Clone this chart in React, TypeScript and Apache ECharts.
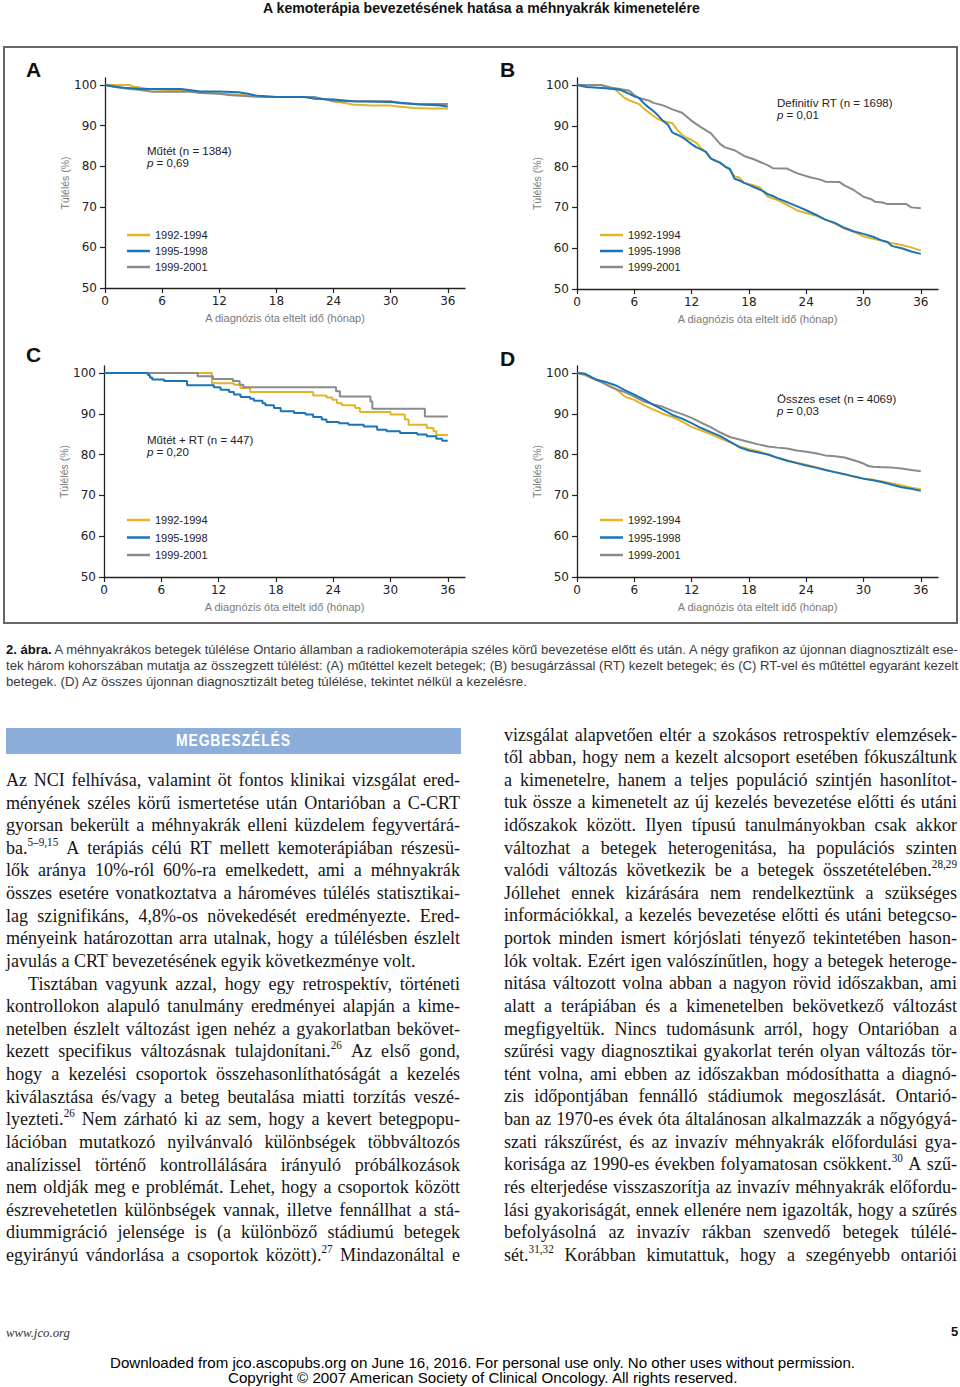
import React, { useEffect, useLayoutEffect, useRef, useState } from "react";
import * as echarts from "echarts";

type P = [number, number][];

// ---------- DATA ----------
const cohortNames = ["1992-1994", "1995-1998", "1999-2001"];
const xTickValues = [0, 6, 12, 18, 24, 30, 36];
const yTickValues = [50, 60, 70, 80, 90, 100];
const panelLetters = ["A", "B", "C", "D"];
const panelTitles = ["Műtét (n = 1384)", "Definitív RT (n = 1698)", "Műtét + RT (n = 447)", "Összes eset (n = 4069)"];
const panelP = ["0,69", "0,01", "0,20", "0,03"];
const xAxisName = "A diagnózis óta eltelt idő (hónap)";
const yAxisName = "Túlélés (%)";

// Panel A – Műtét
const aYellow: P = [[0,100],[2.5,100],[3,99.6],[4.5,99],[6,98.8],[8,98.6],[10,98.2],[12,97.9],[14,97.6],[16,97.2],[18,97],[20,97],[22,96.9],[23,96.5],[24,96],[25,95.6],[26,95.2],[28,94.9],[30,94.9],[31,94.6],[32.5,94.3],[34,94.2],[36,94.2]];
const aBlue: P = [[0,100],[1,99.6],[2,99.3],[4,99],[8,99],[9,98.7],[10,98.4],[12,98.4],[14,98.2],[15,97.8],[16,97.3],[18,97],[21,97],[22,96.6],[24,96.4],[26,96],[30,95.8],[31,95.6],[33,95.2],[35,95],[36,94.7]];
const aGray: P = [[0,100],[1,99.5],[2,99.2],[3.5,98.8],[4.5,98.5],[5,98.3],[9,98.3],[10,98],[12,97.8],[13,97.5],[15,97.2],[17,97],[22,97],[23,96.5],[24,96],[30,96],[31,95.5],[33,95.3],[36,95.3]];

// Panel B – Definitív RT
const bYellow: P = [[0,100],[2.5,100],[3,99.6],[4,99],[4.5,97.8],[5,96.8],[5.5,96.2],[6.5,95.3],[7,94.2],[7.5,93.3],[8,92.4],[8.5,91.6],[9,91.2],[10,90.6],[10.5,89],[11,87.8],[11.5,87],[12,86.5],[12.5,85.8],[13,84.5],[13.5,83.5],[14,82],[15,81],[15.5,80],[16,79.3],[16.5,77.6],[17,77.3],[17.5,76],[18.5,75.4],[19.2,74.8],[19.5,73.8],[20,72.6],[21,71.8],[22,70.6],[23,69.3],[24,68.6],[25,68],[26,67],[27,66],[28,64.8],[29,64],[30,62.9],[31,62.3],[32,61.8],[33,61.2],[34,60.8],[35,60.2],[36,59.4]];
const bBlue: P = [[0,100],[1,99.5],[3,99.2],[4.5,98.8],[5,98.3],[5.5,97.8],[6,97.2],[6.5,96.8],[7,95.5],[7.5,94.5],[8,93.6],[8.5,92.5],[9,91.2],[9.5,90.3],[10,88.3],[10.5,87.8],[11,87.2],[11.5,86.4],[12,85.5],[12.5,84.7],[13,84.2],[13.5,83.6],[14,82],[14.5,81.4],[15,80.9],[15.5,80],[16,79.4],[16.5,77],[17,76.6],[17.5,76],[18,75.5],[18.5,75],[19,74.5],[19.5,74],[20,73.2],[20.5,72.8],[21,72.2],[22,71.3],[23,70.3],[24,69.3],[25,68.2],[26,67],[27,66.2],[28,65],[29,64.1],[30,63.5],[31,62.8],[32,61.8],[32.5,61.5],[33,60.5],[34,60],[35,59.2],[36,58.6]];
const bGray: P = [[0,100],[2.5,100],[3.5,99.4],[4.5,99],[5.5,98.6],[6,97.5],[6.5,96.8],[7.5,96.2],[8,95.6],[9,95],[10,94],[11,93.2],[12,91.2],[13,89.6],[14,88.2],[15,85.5],[15.5,84.7],[16.5,84],[17.5,82.6],[18.5,81.8],[20,80.3],[20.5,79.6],[22,79.5],[23,78.4],[24.4,77.4],[25.5,76.8],[26,76.3],[27.5,76.2],[28,75.4],[29,74.2],[29.5,73.4],[30,72.6],[30.8,72],[31.2,71.4],[32,71.2],[32.5,70.8],[34.5,70.8],[35,70],[36,69.8]];

// Panel C – Műtét + RT (step curves)
const cYellow: P = [[0,100],[11.3,97.5],[13.6,97.1],[14.3,96.3],[15.3,95.3],[21.9,94.5],[23.3,94],[23.9,93.4],[24.4,92.6],[24.9,92.1],[26.3,91.4],[26.8,90.4],[30,89.8],[31.5,88.6],[31.9,87.3],[33.8,86.5],[34.5,85.7],[34.8,84.8],[36,84.8]];
const cBlue: P = [[0,100],[4.6,99.5],[4.8,98.9],[5.05,98.4],[6.3,98],[8.7,97],[11.5,96.5],[12.2,95.9],[13.1,95.3],[13.6,94.7],[14.3,94.1],[15.3,93.7],[15.7,93.2],[16.6,92.6],[16.9,92.1],[17.8,91.4],[18.5,90.6],[19.9,90.2],[21.1,89.8],[21.9,89.2],[22.8,88.6],[23.3,88],[24.6,87.7],[25.6,87.3],[27.2,86.9],[28.6,86.1],[29.6,85.7],[31,85.3],[32.8,84.9],[33.8,84.5],[34.8,83.9],[35.4,83.4],[36,83.4]];
const cGray: P = [[0,100],[9.8,99.2],[11.4,98.5],[13.5,98],[14.2,97.1],[14.6,96.5],[24.3,95.5],[24.7,94.2],[27.9,93],[28.1,91.2],[33.6,89.3],[36,89.3]];

// Panel D – Összes eset
const dYellow: P = [[0,100],[1,99.3],[2,98.3],[3,97.3],[4,96.2],[5,94.2],[6,93.4],[7,92.1],[8,91],[9,90],[10,89.2],[11,88.1],[12,86.8],[13,85.9],[14,85],[15,84],[16,83],[17,82],[18,81.3],[19,80.8],[20,80],[21,79.2],[22,78.6],[23,78],[24,77.5],[25,76.9],[26,76.3],[27,75.7],[28,75.2],[29,74.6],[30,74.1],[31,73.8],[32,73.4],[33,72.9],[34,72.4],[35,71.9],[36,71.5]];
const dBlue: P = [[0,100],[0.8,99.8],[1.5,99],[2,98.4],[3,97.8],[4,97],[5,95.8],[6,94.7],[7,93.5],[8,92.2],[9,91],[10,89.7],[11,88.8],[12,87.7],[13,86.5],[14,85.5],[15,84.5],[16,83.2],[17,81.8],[18,81],[19,80.5],[20,80],[21,79.2],[22,78.5],[23,77.9],[24,77.3],[25,76.8],[26,76.2],[27,75.7],[28,75.2],[29,74.6],[30,74.1],[31,73.7],[32,73.2],[33,72.6],[34,72],[35,71.6],[36,71.1]];
const dGray: P = [[0,100],[0.8,99.8],[1.5,98.8],[2.5,97.8],[3.5,96.6],[4.2,95.9],[5,95.3],[6,94.2],[7,93],[8,92.3],[9,91.7],[10,90.7],[11,89.9],[12,89],[13,87.8],[14,86.7],[15,85.4],[16,84.3],[17,83.7],[18,83.1],[19,82.5],[20,82],[21,81.7],[22,81.5],[23,81],[24,80.7],[25,80.3],[26,79.8],[27,79.6],[28,79.3],[29,78.6],[30,77.8],[30.5,77.2],[31,77],[32,76.9],[33,76.8],[34,76.6],[35,76.2],[36,75.9]];

const panelData: P[][] = [
  [aYellow, aBlue, aGray],
  [bYellow, bBlue, bGray],
  [cYellow, cBlue, cGray],
  [dYellow, dBlue, dGray],
];
const panelStep = [false, false, true, false];

// ---------- PAGE TEXT ----------
const pageTitle = "A kemoterápia bevezetésének hatása a méhnyakrák kimenetelére";
const captionLines = [
  "**2. ábra.** A méhnyakrákos betegek túlélése Ontario államban a radiokemoterápia széles körű bevezetése előtt és után. A négy grafikon az újonnan diagnosztizált ese-",
  "tek három kohorszában mutatja az összegzett túlélést: (A) műtéttel kezelt betegek; (B) besugárzással (RT) kezelt betegek; és (C) RT-vel és műtéttel egyaránt kezelt",
  "betegek. (D) Az összes újonnan diagnosztizált beteg túlélése, tekintet nélkül a kezelésre.",
];
const sectionHeading = "MEGBESZÉLÉS";
const leftColumn = [
  "Az NCI felhívása, valamint öt fontos klinikai vizsgálat ered-",
  "ményének széles körű ismertetése után Ontarióban a C-CRT",
  "gyorsan bekerült a méhnyakrák elleni küzdelem fegyvertárá-",
  "ba.^{5–9,15} A terápiás célú RT mellett kemoterápiában részesü-",
  "lők aránya 10%-ról 60%-ra emelkedett, ami a méhnyakrák",
  "összes esetére vonatkoztatva a hároméves túlélés statisztikai-",
  "lag szignifikáns, 4,8%-os növekedését eredményezte. Ered-",
  "ményeink határozottan arra utalnak, hogy a túlélésben észlelt",
  "~javulás a CRT bevezetésének egyik következménye volt.",
  ">Tisztában vagyunk azzal, hogy egy retrospektív, történeti",
  "kontrollokon alapuló tanulmány eredményei alapján a kime-",
  "netelben észlelt változást igen nehéz a gyakorlatban bekövet-",
  "kezett specifikus változásnak tulajdonítani.^{26} Az első gond,",
  "hogy a kezelési csoportok összehasonlíthatóságát a kezelés",
  "kiválasztása és/vagy a beteg beutalása miatti torzítás veszé-",
  "lyezteti.^{26} Nem zárható ki az sem, hogy a kevert betegpopu-",
  "lációban mutatkozó nyilvánvaló különbségek többváltozós",
  "analízissel történő kontrollálására irányuló próbálkozások",
  "nem oldják meg e problémát. Lehet, hogy a csoportok között",
  "észrevehetetlen különbségek vannak, illetve fennállhat a stá-",
  "diummigráció jelensége is (a különböző stádiumú betegek",
  "egyirányú vándorlása a csoportok között).^{27} Mindazonáltal e",
];
const rightColumn = [
  "vizsgálat alapvetően eltér a szokásos retrospektív elemzések-",
  "től abban, hogy nem a kezelt alcsoport esetében fókuszáltunk",
  "a kimenetelre, hanem a teljes populáció szintjén hasonlítot-",
  "tuk össze a kimenetelt az új kezelés bevezetése előtti és utáni",
  "időszakok között. Ilyen típusú tanulmányokban csak akkor",
  "változhat a betegek heterogenitása, ha populációs szinten",
  "valódi változás következik be a betegek összetételében.^{28,29}",
  "Jóllehet ennek kizárására nem rendelkeztünk a szükséges",
  "információkkal, a kezelés bevezetése előtti és utáni betegcso-",
  "portok minden ismert kórjóslati tényező tekintetében hason-",
  "lók voltak. Ezért igen valószínűtlen, hogy a betegek heteroge-",
  "nitása változott volna abban a nagyon rövid időszakban, ami",
  "alatt a terápiában és a kimenetelben bekövetkező változást",
  "megfigyeltük. Nincs tudomásunk arról, hogy Ontarióban a",
  "szűrési vagy diagnosztikai gyakorlat terén olyan változás tör-",
  "tént volna, ami ebben az időszakban módosíthatta a diagnó-",
  "zis időpontjában fennálló stádiumok megoszlását. Ontarió-",
  "ban az 1970-es évek óta általánosan alkalmazzák a nőgyógyá-",
  "szati rákszűrést, és az invazív méhnyakrák előfordulási gya-",
  "korisága az 1990-es években folyamatosan csökkent.^{30} A szű-",
  "rés elterjedése visszaszorítja az invazív méhnyakrák előfordu-",
  "lási gyakoriságát, ennek ellenére nem igazolták, hogy a szűrés",
  "befolyásolná az invazív rákban szenvedő betegek túlélé-",
  "sét.^{31,32} Korábban kimutattuk, hogy a szegényebb ontariói",
];
const footerSite = "www.jco.org";
const footerPage = "5";
const downloadLines = [
  "Downloaded from jco.ascopubs.org on June 16, 2016. For personal use only. No other uses without permission.",
  "Copyright © 2007 American Society of Clinical Oncology. All rights reserved.",
];

// ---------- STYLE ----------
const SANS = "'Liberation Sans', Arial, Helvetica, sans-serif";
const TICKFONT = "'DejaVu Sans', 'Liberation Sans', sans-serif";
const SERIF = "'Liberation Serif', 'Times New Roman', serif";
const COLORS = ["#E2B426", "#1B74B8", "#8A8A8A"];

const grids = [
  { left: 105, top: 78, width: 360, height: 210 },
  { left: 577, top: 78, width: 361, height: 211 },
  { left: 104, top: 366, width: 361, height: 211 },
  { left: 577, top: 366, width: 361, height: 211 },
];
const legendPos = [
  { left: 127, top: 229, gap: 4 },
  { left: 600, top: 229, gap: 4 },
  { left: 127, top: 514, gap: 5.5 },
  { left: 600, top: 514, gap: 5.5 },
];
const letterPos = [
  { x: 26, y: 69 },
  { x: 500, y: 69 },
  { x: 26, y: 354 },
  { x: 500, y: 358 },
];
const notePos = [
  { x: 147, y: 151 },
  { x: 777, y: 103 },
  { x: 147, y: 439.5 },
  { x: 777, y: 398.5 },
];

function buildOption() {
  const series: any[] = [];
  panelData.forEach((cohorts, gi) => {
    [0, 2, 1].forEach((ci) => {
      series.push({
        type: "line",
        name: cohortNames[ci],
        xAxisIndex: gi,
        yAxisIndex: gi,
        data: cohorts[ci],
        step: panelStep[gi] ? "end" : false,
        symbol: "none",
        showSymbol: false,
        silent: true,
        lineStyle: { width: 2, color: COLORS[ci] },
        itemStyle: { color: COLORS[ci] },
      });
    });
  });

  const xAxis = grids.map((_, i) => ({
    gridIndex: i,
    type: "value",
    min: 0,
    max: 37.8,
    name: xAxisName,
    nameLocation: "middle",
    nameGap: 24,
    nameTextStyle: { color: "#7a7a7a", fontSize: 11, fontFamily: SANS },
    axisLine: { show: true, onZero: false, lineStyle: { color: "#222", width: 1.3 } },
    axisTick: { show: true, length: 5, customValues: xTickValues, lineStyle: { color: "#222", width: 1.2 } },
    axisLabel: { customValues: xTickValues, margin: 7, fontSize: 12, color: "#222", fontFamily: TICKFONT },
    splitLine: { show: false },
  }));
  const yAxis = grids.map((_, i) => ({
    gridIndex: i,
    type: "value",
    min: 50,
    max: 101.7,
    name: yAxisName,
    nameLocation: "middle",
    nameRotate: 90,
    nameGap: 32,
    nameTextStyle: { color: "#7a7a7a", fontSize: 10.5, fontFamily: SANS },
    axisLine: { show: true, onZero: false, lineStyle: { color: "#222", width: 1.3 } },
    axisTick: { show: true, length: 5, customValues: yTickValues, lineStyle: { color: "#222", width: 1.2 } },
    axisLabel: { customValues: yTickValues, margin: 8, fontSize: 12, color: "#222", fontFamily: TICKFONT },
    splitLine: { show: false },
  }));

  const legend = legendPos.map((p) => ({
    orient: "vertical",
    left: p.left,
    top: p.top,
    padding: 0,
    itemGap: p.gap,
    itemWidth: 23,
    itemHeight: 2.5,
    icon: "rect",
    selectedMode: false,
    textStyle: { fontSize: 11, color: "#222", fontFamily: SANS, lineHeight: 12 },
    data: cohortNames,
  }));

  const graphic: any[] = [
    {
      type: "rect",
      silent: true,
      shape: { x: 4, y: 47, width: 953, height: 576 },
      style: { fill: "none", stroke: "#666", lineWidth: 2 },
    },
  ];
  panelLetters.forEach((l, i) => {
    graphic.push({
      type: "text",
      x: letterPos[i].x,
      y: letterPos[i].y,
      silent: true,
      style: { text: l, fontSize: 21, fontWeight: "bold", fontFamily: SANS, fill: "#111", verticalAlign: "middle" },
    });
    graphic.push({
      type: "text",
      x: notePos[i].x,
      y: notePos[i].y,
      silent: true,
      style: { text: panelTitles[i], fontSize: 11.5, fontFamily: SANS, fill: "#222", verticalAlign: "middle" },
    });
    graphic.push({
      type: "text",
      x: notePos[i].x,
      y: notePos[i].y + 12.3,
      silent: true,
      style: {
        text: "{i|p} = " + panelP[i],
        fontSize: 11.5,
        fontFamily: SANS,
        fill: "#222",
        verticalAlign: "middle",
        rich: { i: { fontStyle: "italic", fontSize: 11.5, fontFamily: SANS, fill: "#222" } },
      },
    });
  });

  return {
    animation: false,
    textStyle: { fontFamily: SANS },
    grid: grids.map((g) => ({ ...g, containLabel: false })),
    xAxis,
    yAxis,
    legend,
    series,
    graphic,
  };
}

// ---------- TEXT HELPERS ----------
function renderWord(w: string, key: number) {
  const parts = w.split(/\^\{([^}]*)\}/);
  return (
    <span key={key}>
      {parts.map((p, i) =>
        i % 2 === 1 ? (
          <span key={i} style={{ fontSize: "0.62em", position: "relative", top: "-0.7em" }}>{p}</span>
        ) : (
          <React.Fragment key={i}>{p}</React.Fragment>
        )
      )}
    </span>
  );
}

function onFonts(fn: () => void) {
  fn();
  const f = (document as any).fonts;
  if (f && f.ready) f.ready.then(fn);
}

function FitText(props: { x: number; cy: number; width: number; size: number; style?: React.CSSProperties; children: React.ReactNode }) {
  const ref = useRef<HTMLDivElement>(null);
  const [s, setS] = useState(1);
  useLayoutEffect(() => {
    onFonts(() => {
      const el = ref.current;
      if (!el) return;
      const w = el.scrollWidth;
      if (w > 0) setS(props.width / w);
    });
  }, [props.width]);
  const lh = Math.round(props.size * 1.25);
  return (
    <div
      ref={ref}
      style={{
        position: "absolute",
        left: props.x,
        top: props.cy - lh / 2,
        lineHeight: lh + "px",
        fontSize: props.size,
        whiteSpace: "nowrap",
        transform: `scaleX(${s})`,
        transformOrigin: "0 0",
        ...props.style,
      }}
    >
      {props.children}
    </div>
  );
}

const BODY_SIZE = 19;
const BODY_CONDENSE = 0.95;
const MIN_GAP = 3.6;

function BodyLine(props: { text: string; x: number; cy: number; width: number }) {
  let t = props.text;
  let indent = 0;
  let justify = true;
  if (t.startsWith(">")) {
    indent = 22;
    t = t.slice(1);
  }
  if (t.startsWith("~")) {
    justify = false;
    t = t.slice(1);
  }
  const words = t.split(" ");
  const W = props.width - indent;
  const ref = useRef<HTMLDivElement>(null);
  const [s, setS] = useState(BODY_CONDENSE);
  useLayoutEffect(() => {
    onFonts(() => {
      const el = ref.current;
      if (!el) return;
      let sum = 0;
      Array.from(el.children).forEach((c) => (sum += (c as HTMLElement).offsetWidth));
      const natural = sum + MIN_GAP * (words.length - 1);
      setS(Math.min(BODY_CONDENSE, W / natural));
    });
  }, [t, W]);
  const LH = 22;
  return (
    <div style={{ position: "absolute", left: props.x + indent, top: props.cy - 11.5, width: W, height: LH }}>
      <div
        ref={ref}
        style={{
          width: justify ? W / s : "auto",
          height: LH,
          lineHeight: LH + "px",
          fontFamily: SERIF,
          fontSize: BODY_SIZE,
          color: "#151515",
          display: "flex",
          justifyContent: justify ? "space-between" : "flex-start",
          columnGap: justify ? 0 : 4.6,
          whiteSpace: "nowrap",
          transform: `scaleX(${s})`,
          transformOrigin: "0 0",
        }}
      >
        {words.map((w, i) => renderWord(w, i))}
      </div>
    </div>
  );
}

function Caption() {
  const tops = [650, 666, 682];
  const widths = [952, 952, 521];
  return (
    <>
      {captionLines.map((line, i) => {
        const m = line.match(/^\*\*(.*?)\*\*(.*)$/);
        return (
          <FitText key={i} x={6} cy={tops[i]} width={widths[i]} size={13} style={{ fontFamily: SANS, color: "#3a3a3a" }}>
            {m ? (
              <>
                <b style={{ color: "#111" }}>{m[1]}</b>
                {m[2]}
              </>
            ) : (
              line
            )}
          </FitText>
        );
      })}
    </>
  );
}

function Chart() {
  const ref = useRef<HTMLDivElement>(null);
  useEffect(() => {
    if (!ref.current) return;
    const chart = echarts.init(ref.current, undefined, { renderer: "svg" });
    chart.setOption(buildOption() as any);
    return () => chart.dispose();
  }, []);
  return <div ref={ref} style={{ position: "absolute", left: 0, top: 0, width: 960, height: 632 }} />;
}

export default function App() {
  return (
    <div style={{ position: "absolute", left: 0, top: 0, width: 960, height: 1387, background: "#fff", overflow: "hidden" }}>
      <FitText x={263} cy={8} width={437} size={14} style={{ fontFamily: SANS, fontWeight: "bold", color: "#111" }}>
        {pageTitle}
      </FitText>
      <Chart />
      <Caption />
      <div style={{ position: "absolute", left: 6, top: 728, width: 455, height: 26, background: "#8DADDB" }} />
      <FitText x={176} cy={741} width={115} size={16} style={{ fontFamily: SANS, fontWeight: "bold", color: "#fff", letterSpacing: 1 }}>
        {sectionHeading}
      </FitText>
      {leftColumn.map((t, i) => (
        <BodyLine key={"l" + i} text={t} x={6} cy={780.5 + i * 22.62} width={454} />
      ))}
      {rightColumn.map((t, i) => (
        <BodyLine key={"r" + i} text={t} x={504} cy={735 + i * 22.62} width={453} />
      ))}
      <FitText x={6} cy={1333} width={64} size={12} style={{ fontFamily: SERIF, fontStyle: "italic", color: "#333" }}>
        {footerSite}
      </FitText>
      <FitText x={951} cy={1332} width={7} size={13} style={{ fontFamily: SANS, fontWeight: "bold", color: "#111" }}>
        {footerPage}
      </FitText>
      <FitText x={110} cy={1362} width={745} size={15} style={{ fontFamily: SANS, color: "#000" }}>
        {downloadLines[0]}
      </FitText>
      <FitText x={228} cy={1377} width={509} size={15} style={{ fontFamily: SANS, color: "#000" }}>
        {downloadLines[1]}
      </FitText>
    </div>
  );
}
